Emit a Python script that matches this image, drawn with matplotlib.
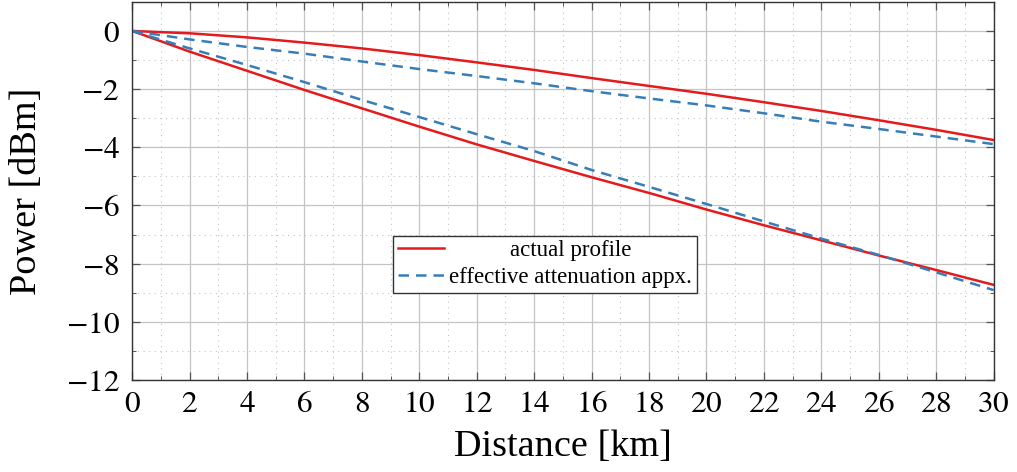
import matplotlib.pyplot as plt
from matplotlib.ticker import MultipleLocator, FuncFormatter

plt.rcParams['font.family'] = ['Liberation Serif', 'DejaVu Serif']
plt.rcParams['mathtext.fontset'] = 'stix'

# distance grid (km)
dist = [0, 2, 4, 6, 8, 10, 12, 14, 16, 18, 20, 22, 24, 26, 28, 30]

# actual profiles (dBm)
actual_hi = [0, -0.08, -0.22, -0.40, -0.60, -0.83, -1.08, -1.34, -1.62, -1.89,
             -2.16, -2.45, -2.75, -3.07, -3.40, -3.75]
actual_lo = [0, -0.71, -1.37, -2.03, -2.66, -3.29, -3.90, -4.47, -5.03, -5.57,
             -6.14, -6.68, -7.20, -7.72, -8.22, -8.73]

# effective attenuation approximations (dBm)
approx_hi = [0, -0.29, -0.55, -0.78, -1.05, -1.31, -1.55, -1.80, -2.07, -2.32,
             -2.56, -2.83, -3.12, -3.37, -3.63, -3.89]
approx_lo = [0, -0.60, -1.17, -1.76, -2.37, -2.96, -3.55, -4.13, -4.78, -5.36,
             -5.95, -6.55, -7.14, -7.70, -8.30, -8.91]

RED = '#e41a1c'
BLUE = '#377eb8'

fig = plt.figure(figsize=(10.17, 4.72), dpi=100)
ax = fig.add_axes([0.130, 0.195, 0.847, 0.801])

ax.plot(dist, actual_hi, color=RED, lw=1.8, label='actual profile')
ax.plot(dist, actual_lo, color=RED, lw=1.8)
ax.plot(dist, approx_hi, color=BLUE, lw=1.8, ls=(0, (4.2, 2.8)), label='effective attenuation appx.')
ax.plot(dist, approx_lo, color=BLUE, lw=1.8, ls=(0, (4.2, 2.8)))

ax.set_xlim(0, 30)
ax.set_ylim(-12, 1)
ax.xaxis.set_major_locator(MultipleLocator(2))
ax.xaxis.set_minor_locator(MultipleLocator(1))
ax.yaxis.set_major_locator(MultipleLocator(2))
ax.yaxis.set_minor_locator(MultipleLocator(1))
tex_fmt = FuncFormatter(lambda v, pos: f'${v:.0f}$')
ax.xaxis.set_major_formatter(tex_fmt)
ax.yaxis.set_major_formatter(tex_fmt)

ax.grid(which='major', color='#c4c4c4', lw=0.9, ls='-')
ax.grid(which='minor', color='#c4c4c4', lw=0.8, ls=(0, (1, 4)))
ax.set_axisbelow(True)

ax.tick_params(which='both', direction='in', top=True, right=True, labelsize=22.5,
               color='#555555')
ax.tick_params(which='major', length=6, width=0.9)
ax.tick_params(axis='x', which='major', pad=7)
ax.tick_params(axis='y', which='major', pad=9)
ax.tick_params(which='minor', length=3, width=0.7)
for s in ax.spines.values():
    s.set_color('#333333')
    s.set_linewidth(1.0)

ax.set_xlabel('Distance [km]', fontsize=27.5, labelpad=8)
ax.set_ylabel('Power [dBm]', fontsize=27.5, labelpad=16)

leg = ax.legend(loc='lower left', bbox_to_anchor=(0.303, 0.23), fontsize=16.5,
                fancybox=False, edgecolor='#333333', framealpha=1,
                handlelength=2.0, handletextpad=0.25, borderpad=0.2,
                borderaxespad=0, labelspacing=0.27)
leg.get_frame().set_linewidth(1.0)

# center legend labels within the text column
r = fig.canvas.get_renderer()
texts = leg.get_texts()
widths = [t.get_window_extent(r).width for t in texts]
wmax = max(widths)
for t, w in zip(texts, widths):
    t.set_position(((wmax - w) / 2, 0))

fig.savefig('out.png', dpi=100)
